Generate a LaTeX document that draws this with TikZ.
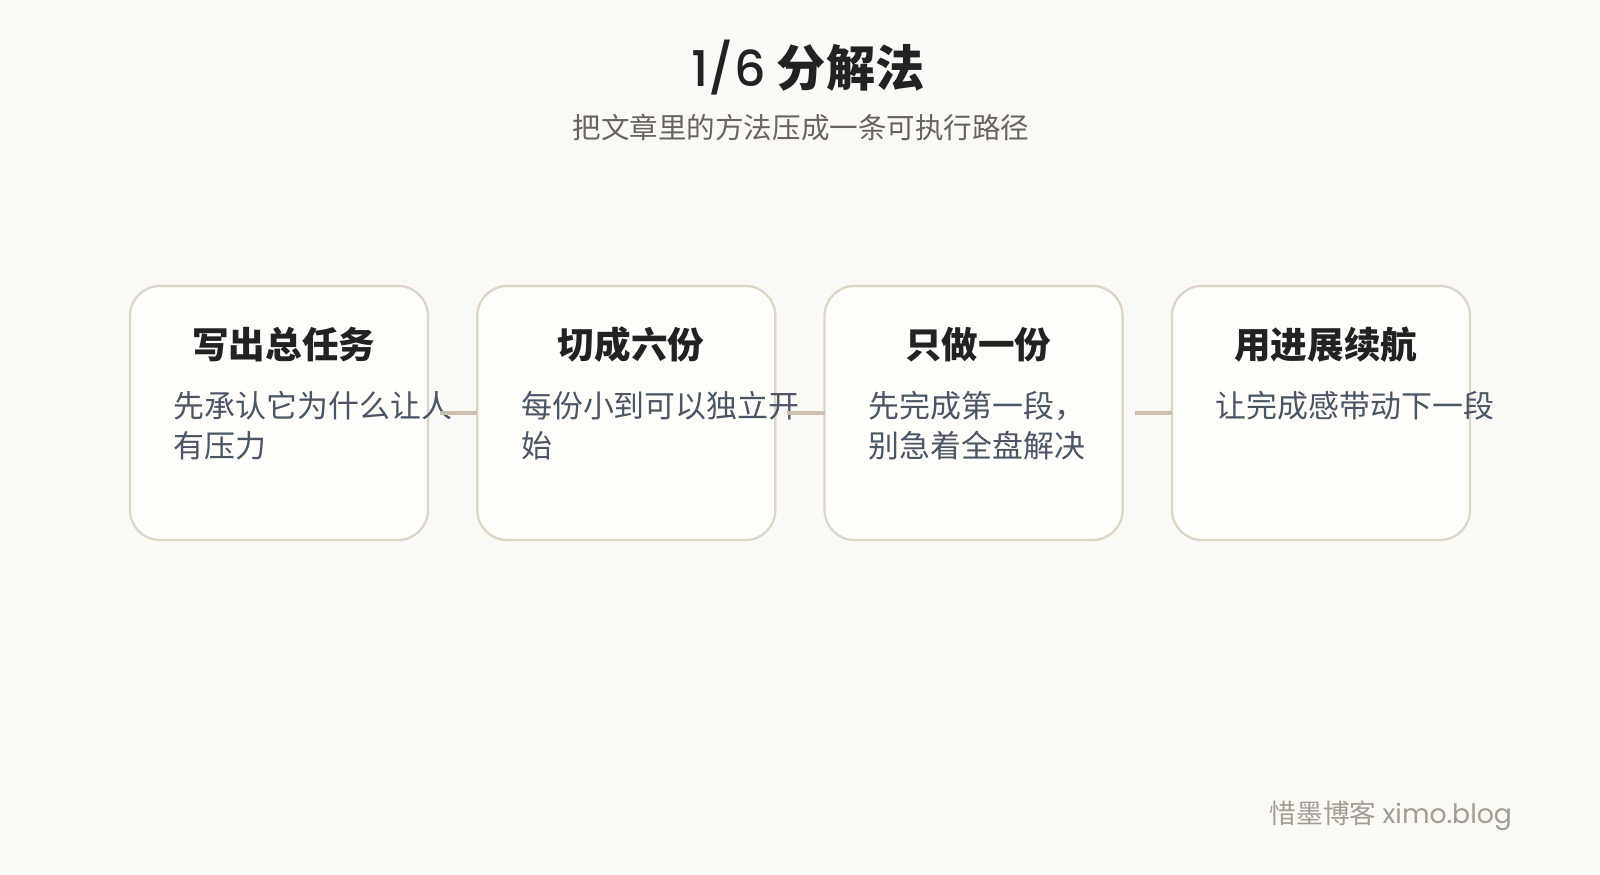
\documentclass[tikz,border=0pt]{standalone}
\usepackage{fontspec}
\setmainfont{Noto Sans CJK SC}
\newfontfamily\geofont{Poppins}[BoldFont={Poppins Medium}]
\usetikzlibrary{positioning}
\definecolor{myBg}{HTML}{FAF9F6}
\definecolor{myCard}{HTML}{FEFDFA}
\definecolor{myEdge}{HTML}{DDD5C6}
\definecolor{myLink}{HTML}{C9BFAC}
\definecolor{myInk}{HTML}{222222}
\definecolor{mySub}{HTML}{676460}
\definecolor{mySlate}{HTML}{4A5565}
\definecolor{myFoot}{HTML}{A39D92}

\tikzset{
  card/.style={draw=myEdge, line width=1.6pt, fill=myCard, rounded corners=0.75cm,
    minimum width=7.45cm, minimum height=6.35cm, inner sep=0pt, outer sep=0pt},
  cardhead/.style={myInk, font=\fontsize{26}{30}\selectfont\bfseries, inner sep=0pt},
  cardtext/.style={mySlate, font=\fontsize{22}{28.5}\selectfont, align=left,
    anchor=north west, inner sep=0pt},
  link/.style={myLink, line width=2.6pt},
}

\begin{document}
\begin{tikzpicture}[x=0.025cm, y=-0.025cm]
  % Hintergrund
  \fill[myBg] (0,0) rectangle (1600,875);
  % Titel
  \node[myInk, font=\fontsize{35}{40}\selectfont\bfseries] (title) at (808,68) {{\geofont 1/6} 分解法};
  \node[mySub, font=\fontsize{20.3}{24}\selectfont] (subtitle) at (801,127.5) {把文章里的方法压成一条可执行路径};
  % Karten
  \foreach \i/\x/\head/\body in {1/279/写出总任务/{先承认它为什么让人\\有压力},
      2/626.3/切成六份/{每份小到可以独立开\\始},
      3/973.6/只做一份/{先完成第一段，\\别急着全盘解决},
      4/1321/用进展续航/{让完成感带动下一段}} {
    \node[card] (box\i) at (\x,413) {};
    \node[cardhead] (head\i) at ([xshift=0.12cm, yshift=-1.475cm]box\i.north) {\head};
    \node[cardtext] (text\i) at ([xshift=1.09cm, yshift=-2.625cm]box\i.north west) {\body};
  }
  % Verbindungen
  \foreach \a/\b in {1/2, 2/3, 3/4} {
    \draw[link] ([xshift=0.3cm]box\a.east) -- (box\b.west);
  }
  % Fusszeile
  \node[myFoot, anchor=east, font=\fontsize{19}{22}\selectfont] (foot) at (1517,816) {惜墨博客 {\geofont ximo.blog}};
\end{tikzpicture}
\end{document}
